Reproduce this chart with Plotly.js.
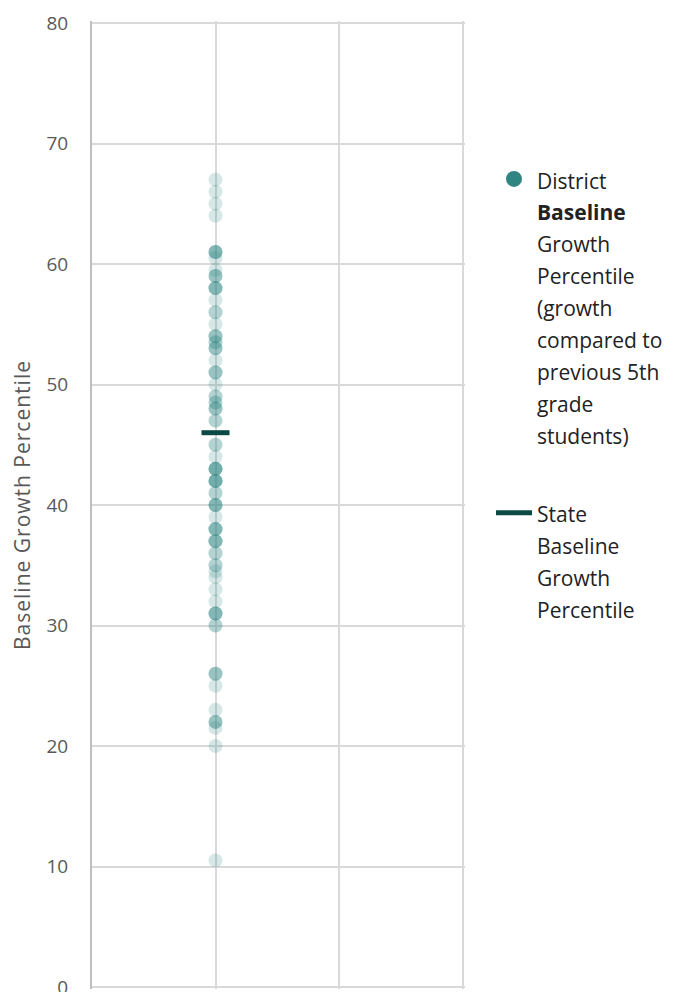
<!DOCTYPE html>
<html>
<head>
<meta charset="utf-8">
<script src="https://cdn.plot.ly/plotly-3.0.1.min.js"></script>
<style>html,body{margin:0;padding:0;background:#fff;}#chart{width:675px;height:992px;}</style>
</head>
<body>
<div id="chart"></div>
<script>
// District baseline growth percentiles (one value per school; repeats overlap and look darker)
const districtScores = [67, 66, 65, 64,
  61, 61, 61, 61, 60.5, 59.5, 59, 59, 59, 58, 58, 58, 58, 57, 56, 56, 55,
  54, 54, 54, 53.5, 53.5, 53, 53, 53, 52, 51, 51, 51, 50, 49, 49, 48.5, 48.5,
  48, 48, 48, 47, 47, 45, 45, 44, 43, 43, 43, 43, 43, 42, 42, 42, 42, 42,
  41, 41, 40, 40, 40, 40, 39, 38, 38, 38, 38, 37, 37, 37, 37, 36, 36, 35, 35,
  34.5, 34, 33, 32, 31, 31, 31, 31, 30, 30,
  26, 26, 26, 25, 23, 22, 22, 22, 21.5, 20, 10.5];
const stateScore = [46];
const groupPosition = 1;
const yTicks = [0, 10, 20, 30, 40, 50, 60, 70, 80];
const districtLines = ["District", "<b>Baseline</b>", "Growth", "Percentile", "(growth", "compared to", "previous 5th", "grade", "students)"];
const stateLines = ["State", "Baseline", "Growth", "Percentile"];
const yTitle = "Baseline Growth Percentile";

const TEAL = '#2f8582';
const DARK = '#0b4a44';
const wrap = lines => '<span style="font-size:21px">' + lines.join('<br>') + '</span>';

const traces = [
  { // legend entry for district (solid marker)
    type: 'scatter', mode: 'markers', name: wrap(districtLines), legendgroup: 'd',
    x: [null], y: [null], marker: {color: TEAL, size: 19}, hoverinfo: 'skip'
  },
  { // legend entry for state
    type: 'scatter', mode: 'lines', name: wrap(stateLines), legendgroup: 's',
    x: [null], y: [null], line: {color: DARK, width: 5}, hoverinfo: 'skip'
  },
  {
    type: 'scatter', mode: 'markers', showlegend: false,
    x: districtScores.map(() => groupPosition), y: districtScores,
    marker: {color: TEAL, size: 14, opacity: 0.2},
    hoverinfo: 'skip'
  },
  {
    type: 'scatter', mode: 'markers', showlegend: false,
    x: stateScore.map(() => groupPosition), y: stateScore,
    marker: {symbol: 'line-ew', size: 20, color: DARK, line: {color: DARK, width: 5}},
    hoverinfo: 'skip'
  }
];

const layout = {
  width: 675, height: 992,
  margin: {l: 92, r: 210, t: 21, b: 3},
  paper_bgcolor: '#fff', plot_bgcolor: '#fff',
  font: {family: '"Open Sans", Lato, sans-serif', color: '#595959'},
  xaxis: {
    range: [0, 3.02], tickvals: [1, 2, 3], showticklabels: false,
    showgrid: true, gridcolor: '#d9d9d9', gridwidth: 2,
    zeroline: false, showline: false, ticks: '', fixedrange: true
  },
  yaxis: {
    range: [-0.166, 80.166], tickvals: yTicks, ticktext: yTicks.map(String),
    showgrid: true, gridcolor: '#d9d9d9', gridwidth: 2,
    zeroline: false, showline: true, linecolor: '#bfbfbf', linewidth: 2,
    ticks: '', ticklabelstandoff: 18, ticklabeloverflow: 'allow',
    tickfont: {size: 19, color: '#595959'},
    title: {text: '<span style="letter-spacing:1px">' + yTitle + '</span>', font: {size: 21, color: '#595959'}, standoff: 10},
    fixedrange: true
  },
  showlegend: true,
  legend: {
    x: 1.0697, xanchor: 'left', y: 0.8601, yanchor: 'top',
    valign: 'top', tracegroupgap: 43, itemwidth: 36,
    font: {size: 24.6, color: '#222222', family: '"Open Sans", Lato, sans-serif'},
    itemsizing: 'trace', bgcolor: 'rgba(0,0,0,0)'
  }
};

Plotly.newPlot('chart', traces, layout, {displayModeBar: false, staticPlot: true});
</script>
</body>
</html>
